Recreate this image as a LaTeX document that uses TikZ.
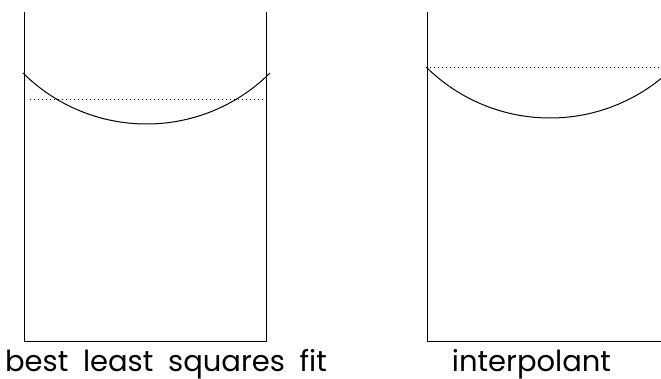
\documentclass[tikz,border=0pt]{standalone}
\usepackage{fontspec}
\setmainfont{Poppins}[WordSpace=1.9]
\usetikzlibrary{positioning}

\tikzset{
	frame/.style={line width=0.5pt},
	fitline/.style={line width=0.5pt, dash pattern=on 0.5pt off 1.5pt},
	caption/.style={font=\fontsize{14.5}{17}\selectfont, anchor=base, inner sep=0pt}
}

\begin{document}
\begin{tikzpicture}[x=0.5pt, y=-0.5pt]
	\useasboundingbox (0,0) rectangle (661,379);
	
	% 左图：最小二乘拟合
	\begin{scope}
		\draw[frame] (25,12) -- (25,342) -- (267,342) -- (267,12);
		% 曲线 (圆弧, 半径 175)
		\draw[frame, domain=23:270, smooth, samples=80, variable=\x] plot ({\x}, {-51+175*sqrt(1-((\x-146.5)/175)^2)});
		% 常数拟合
		\draw[fitline] (30,100) -- (269,100);
		\node[caption] (lsq) at (166,372) {best least squares fit};
	\end{scope}
	
	% 右图：插值
	\begin{scope}
		\draw[frame] (428,12) -- (428,342) -- (661,342);
		\draw[frame, domain=427:661, smooth, samples=80, variable=\x] plot ({\x}, {-58+176*sqrt(1-((\x-550)/176)^2)});
		\draw[fitline] (426,68) -- (661,68);
		\node[caption] (interp) at (531.5,372) {interpolant};
	\end{scope}
\end{tikzpicture}
\end{document}
